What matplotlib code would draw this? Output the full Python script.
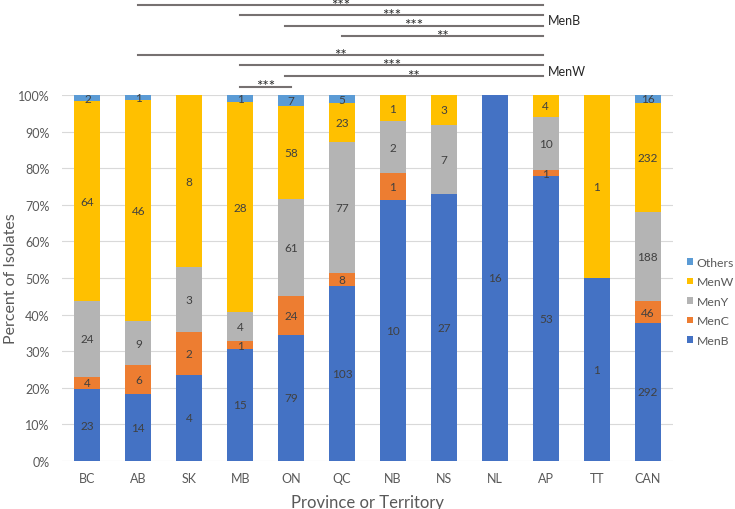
import numpy as np
import matplotlib
matplotlib.use("Agg")
from matplotlib import pyplot as plt

plt.rcParams['font.family'] = ['Lato', 'DejaVu Sans']

regions = ["BC", "AB", "SK", "MB", "ON", "QC", "NB", "NS", "NL", "AP", "TT", "CAN"]
menB   = [23, 14, 4, 15, 79, 103, 10, 27, 16, 53, 1, 292]
menC   = [4, 6, 2, 1, 24, 8, 1, 0, 0, 1, 0, 46]
menY   = [24, 9, 3, 4, 61, 77, 2, 7, 0, 10, 0, 188]
menW   = [64, 46, 8, 28, 58, 23, 1, 3, 0, 4, 1, 232]
others = [2, 1, 0, 1, 7, 5, 0, 0, 0, 0, 0, 16]

series = [("MenB", menB, "#4472C4"),
          ("MenC", menC, "#ED7D31"),
          ("MenY", menY, "#B4B4B4"),
          ("MenW", menW, "#FFC000"),
          ("Others", others, "#5B9BD5")]

# significance brackets: (from, to, height, stars)
sig_menB = [(1, 8.95, 1.245, "***"),
            (3, 8.95, 1.219, "***"),
            (3.87, 8.95, 1.189, "***"),
            (5, 8.95, 1.160, "**")]
sig_menW = [(1, 8.95, 1.109, "**"),
            (3, 8.95, 1.081, "***"),
            (3.87, 8.95, 1.052, "**"),
            (3, 4, 1.023, "***")]

fig = plt.figure(figsize=(7.35, 5.1), dpi=100)
ax = fig.add_axes([62/735, 48/510, 611/735, 366/510])

x = np.arange(len(regions))
totals = np.sum([s[1] for s in series], axis=0).astype(float)
bottom = np.zeros(len(regions))
handles = []
for name, vals, col in series:
    frac = np.array(vals) / totals
    b = ax.bar(x, frac, 0.51, bottom=bottom, color=col, label=name, zorder=2)
    handles.append(b)
    for i, v in enumerate(vals):
        if v > 0:
            ax.text(x[i], bottom[i] + frac[i] / 2, str(v), ha="center", va="center",
                    fontsize=8.5, color="#404040", zorder=3)
    bottom += frac

ax.set_xlim(-0.5, len(regions) - 0.5)
ax.set_ylim(0, 1)
ax.set_yticks(np.linspace(0, 1, 11))
ax.set_yticklabels(["{}%".format(p) for p in range(0, 101, 10)])
ax.set_xticks(x)
ax.set_xticklabels(regions)
ax.tick_params(axis="both", length=0, labelsize=9, colors="#595959")
ax.tick_params(axis="x", pad=8)
ax.tick_params(axis="y", pad=9)
ax.yaxis.grid(True, color="#D9D9D9", lw=0.8, zorder=0)
for sp in ax.spines.values():
    sp.set_visible(False)

ax.set_ylabel("Percent of Isolates", fontsize=11.5, color="#595959", labelpad=0)
ax.set_xlabel("Province or Territory", fontsize=12, color="#595959", labelpad=7)

for x0, x1, y, st in sig_menB + sig_menW:
    ax.plot([x0, x1], [y, y], color="#767171", lw=1.5, clip_on=False, zorder=4)
    ax.text((x0 + x1) / 2, y - 0.010, st, ha="center", va="baseline", fontsize=11,
            color="#262626", clip_on=False, zorder=5)
ax.text(9.05, 1.204, "MenB", ha="left", va="center", fontsize=9, color="#262626")
ax.text(9.05, 1.066, "MenW", ha="left", va="center", fontsize=9, color="#262626")

leg = ax.legend(handles[::-1], [s[0] for s in series][::-1], loc="center left",
                bbox_to_anchor=(1 + 14/611, 0.436), frameon=False, fontsize=8.8,
                borderpad=0, borderaxespad=0,
                handlelength=0.45, handleheight=0.45, handletextpad=0.35, labelspacing=0.7)
for t in leg.get_texts():
    t.set_color("#595959")

fig.savefig("out.png", dpi=100)
